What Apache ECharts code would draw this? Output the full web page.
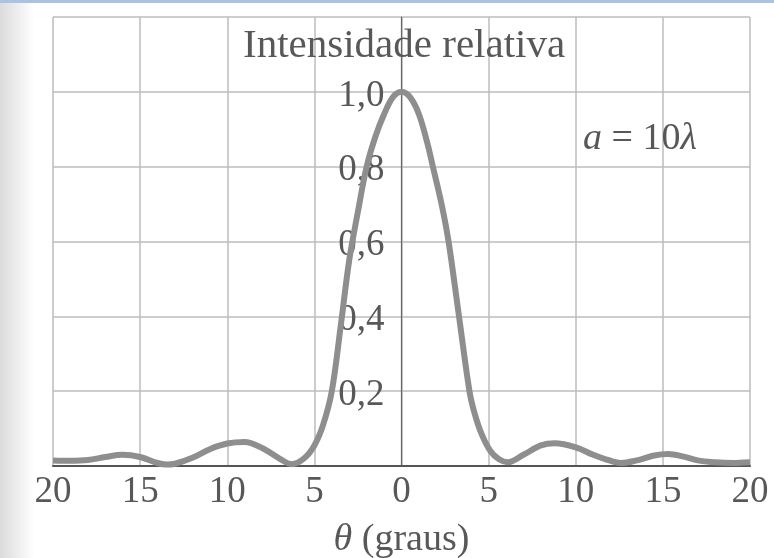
<!DOCTYPE html>
<html>
<head>
<meta charset="utf-8">
<title>Intensidade relativa</title>
<script src="https://cdn.jsdelivr.net/npm/echarts@6/dist/echarts.min.js"></script>
<style>
    html, body { margin: 0; padding: 0; background: #ffffff; }
    #main { width: 774px; height: 558px; }
</style>
</head>
<body>
<div id="main"></div>
<script>
// angulo em graus (negativo = lado esquerdo do grafico)
var theta = [-20, -19, -18, -17, -16, -15, -14, -13.5, -13, -12, -11, -10, -9, -8, -7, -6.3, -5.6, -5,
    -4.5, -4, -3.5, -3, -2.5, -2, -1.5, -1, -0.5, 0, 0.5, 1, 1.5, 1.8, 2.3, 2.7, 3.3, 3.9, 4.2, 4.6, 5.1, 5.6,
    6.1, 7, 8, 8.8, 10, 11, 11.6, 12.6, 13.5, 14.5, 15.3, 16.2, 17, 18, 19, 20];
// intensidade relativa
var intensity = [0.015, 0.014, 0.016, 0.024, 0.030, 0.024, 0.008, 0.004, 0.006, 0.022, 0.045, 0.060, 0.064, 0.048, 0.020, 0.005, 0.020, 0.055,
    0.110, 0.200, 0.370, 0.550, 0.680, 0.800, 0.880, 0.940, 0.985, 1.000, 0.985, 0.940, 0.860, 0.800, 0.700, 0.600, 0.400, 0.200, 0.140, 0.085, 0.040, 0.018,
    0.010, 0.030, 0.055, 0.061, 0.050, 0.030, 0.020, 0.008, 0.015, 0.028, 0.032, 0.025, 0.015, 0.010, 0.008, 0.010];
var yLabels = ["0,2", "0,4", "0,6", "0,8", "1,0"];

var serif = "Liberation Serif";
var textGray = "#585858";

var points = [];
for (var i = 0; i < theta.length; i++) {
    points.push([theta[i], intensity[i]]);
}

var gridLeft = 53, gridRight = 24;
var plotWidth = 774 - gridLeft - gridRight;

var myChart = echarts.init(document.getElementById("main"));

var option = {
    backgroundColor: "#ffffff",
    animation: false,
    title: [{
        text: "Intensidade relativa",
        left: 238,
        top: 21,
        textStyle: { fontFamily: serif, fontSize: 41, fontWeight: "normal", color: textGray }
    }, {
        text: "{i|a} = 10{i|λ}",
        left: 578,
        top: 115,
        textStyle: {
            fontFamily: serif, fontSize: 38, fontWeight: "normal", color: textGray,
            rich: {
                i: { fontFamily: serif, fontSize: 38, fontStyle: "italic", color: textGray }
            }
        }
    }],
    grid: {
        left: gridLeft,
        right: gridRight,
        top: 17,
        bottom: 92,
        outerBoundsMode: "none"
    },
    xAxis: {
        type: "value",
        min: -20,
        max: 20,
        interval: 5,
        axisLine: { onZero: false, lineStyle: { color: "#555555", width: 2 } },
        axisTick: { show: false },
        axisLabel: {
            margin: 8,
            fontFamily: serif,
            fontSize: 37,
            color: textGray,
            formatter: function (v) { return String(Math.abs(v)); }
        },
        splitLine: { show: true, lineStyle: { color: "#bdbdbd", width: 1.5 } },
        name: "{i|θ} (graus)",
        nameLocation: "middle",
        nameGap: 55,
        nameTextStyle: {
            fontFamily: serif, fontSize: 38, color: textGray,
            rich: {
                i: { fontFamily: serif, fontSize: 38, fontStyle: "italic", color: textGray }
            }
        }
    },
    yAxis: {
        type: "value",
        min: 0,
        max: 1.2,
        interval: 0.2,
        // eixo vertical no meio (theta = 0)
        offset: -plotWidth / 2,
        axisLine: { show: true, onZero: false, lineStyle: { color: "#666666", width: 1.2 } },
        axisTick: { show: false },
        axisLabel: {
            margin: 17,
            fontFamily: serif,
            fontSize: 37,
            color: textGray,
            verticalAlign: "top",
            lineHeight: 8,
            formatter: function (v) {
                var k = Math.round(v * 5) - 1;
                return (k >= 0 && k < yLabels.length) ? yLabels[k] : "";
            }
        },
        splitLine: { show: true, lineStyle: { color: "#bdbdbd", width: 1.5 } }
    },
    graphic: [{
        // sombra da digitalizacao na borda esquerda
        type: "rect",
        left: 0,
        top: 0,
        z: -1,
        shape: { width: 34, height: 558 },
        style: {
            fill: new echarts.graphic.LinearGradient(0, 0, 1, 0, [
                { offset: 0, color: "rgba(0,0,0,0.14)" },
                { offset: 1, color: "rgba(0,0,0,0)" }
            ])
        }
    }, {
        type: "rect",
        left: 0,
        top: 0,
        shape: { width: 774, height: 3 },
        style: { fill: "#a9c3e6" }
    }],
    series: [{
        type: "line",
        data: points,
        smooth: 0.35,
        symbol: "none",
        lineStyle: { color: "#8e8e8e", width: 6 },
        z: 3
    }]
};

myChart.setOption(option);
</script>
</body>
</html>
